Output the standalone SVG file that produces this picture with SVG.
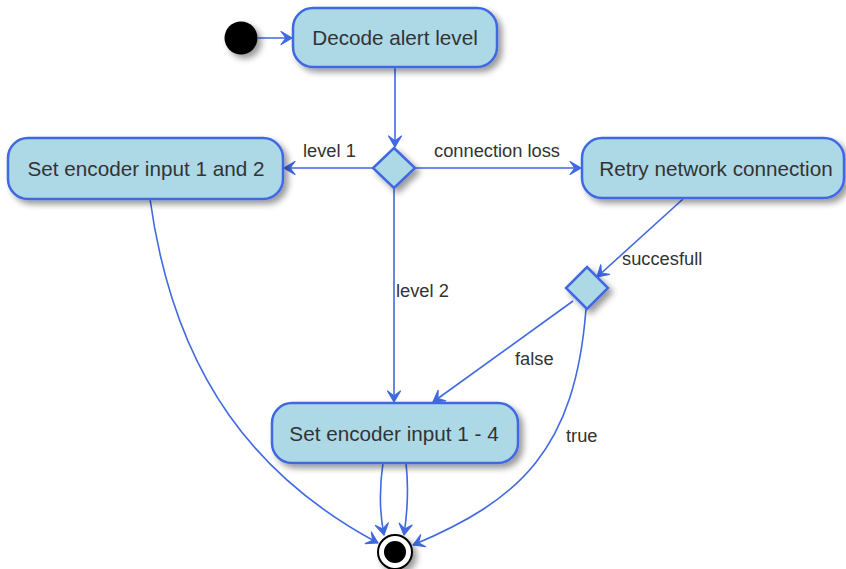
<svg xmlns="http://www.w3.org/2000/svg" width="846" height="569" viewBox="0 0 846 569">
  <style>
    .node { fill: #add8e6; stroke: #4169e1; stroke-width: 2.5; }
    .lbl { font-family: "Liberation Sans", Arial, sans-serif; fill: #333; }
    .ntxt { font-size: 20.7px; text-anchor: middle; }
    .etxt { font-size: 18.3px; }
    .edge { fill: none; stroke: #4169e1; stroke-width: 1.6; }
  </style>
  <defs>
    <filter id="shadow" x="-20%" y="-20%" width="150%" height="160%">
      <feDropShadow dx="4" dy="4" stdDeviation="3" flood-color="#000" flood-opacity="0.4"/>
    </filter>
    <marker id="arrow" viewBox="-12 -8 14 16" refX="0" refY="0" markerWidth="14" markerHeight="16" markerUnits="userSpaceOnUse" orient="auto">
      <path d="M0,0 L-11,-6.5 L-6,0 L-11,6.5 Z" fill="#4169e1" stroke="#4169e1" stroke-width="1.2" stroke-linejoin="round"/>
    </marker>
  </defs>

  <rect width="846" height="569" fill="#fff"/>

  <!-- connectors -->
  <g id="connectors">
    <path class="edge" d="M258,38 L292,38" marker-end="url(#arrow)"/>
    <path class="edge" d="M395,67 L395,147" marker-end="url(#arrow)"/>
    <path class="edge" d="M373,168 L284,168" marker-end="url(#arrow)"/>
    <path class="edge" d="M415,168 L581,168" marker-end="url(#arrow)"/>
    <path class="edge" d="M394,188 L394,402" marker-end="url(#arrow)"/>
    <path class="edge" d="M683,199 L597,277" marker-end="url(#arrow)"/>
    <path class="edge" d="M573,301 L433,402" marker-end="url(#arrow)"/>
    <path class="edge" d="M586,309 C575,450 520,500 413,545" marker-end="url(#arrow)"/>
    <path class="edge" d="M150,199 C175,380 260,480 378,543" marker-end="url(#arrow)"/>
    <path class="edge" d="M383,463 C379,490 380,515 384,535" marker-end="url(#arrow)"/>
    <path class="edge" d="M406,463 C409,490 407,515 404,535" marker-end="url(#arrow)"/>

    <text class="lbl etxt" x="303" y="157">level 1</text>
    <text class="lbl etxt" x="434" y="157">connection loss</text>
    <text class="lbl etxt" x="396" y="297">level 2</text>
    <text class="lbl etxt" x="622" y="265">succesfull</text>
    <text class="lbl etxt" x="515" y="365">false</text>
    <text class="lbl etxt" x="566" y="442">true</text>
  </g>

  <!-- start -->
  <g id="start">
    <circle cx="241" cy="38" r="16.5" fill="#000" filter="url(#shadow)"/>
  </g>

  <g id="decode">
    <rect class="node" x="293" y="8" width="204" height="59" rx="20" filter="url(#shadow)"/>
    <text class="lbl ntxt" x="395" y="45">Decode alert level</text>
  </g>

  <g id="branch1">
    <polygon class="node" points="394,148 415,168 394,188 373,168" filter="url(#shadow)"/>
  </g>

  <g id="set12">
    <rect class="node" x="8" y="138" width="275" height="61" rx="20" filter="url(#shadow)"/>
    <text class="lbl ntxt" x="146" y="176">Set encoder input 1 and 2</text>
  </g>

  <g id="retry">
    <rect class="node" x="582" y="138" width="262" height="60" rx="20" filter="url(#shadow)"/>
    <text class="lbl ntxt" x="716" y="176">Retry network connection</text>
  </g>

  <g id="branch2">
    <polygon class="node" points="587,267 608,288 587,309 566,288" filter="url(#shadow)"/>
  </g>

  <g id="set14">
    <rect class="node" x="272" y="403" width="246" height="60" rx="20" filter="url(#shadow)"/>
    <text class="lbl ntxt" x="394" y="441">Set encoder input 1 - 4</text>
  </g>

  <!-- end -->
  <g id="end">
    <circle cx="395" cy="552" r="17" fill="#fff" stroke="#000" stroke-width="2" filter="url(#shadow)"/>
    <circle cx="395" cy="552" r="11" fill="#000"/>
  </g>
</svg>
